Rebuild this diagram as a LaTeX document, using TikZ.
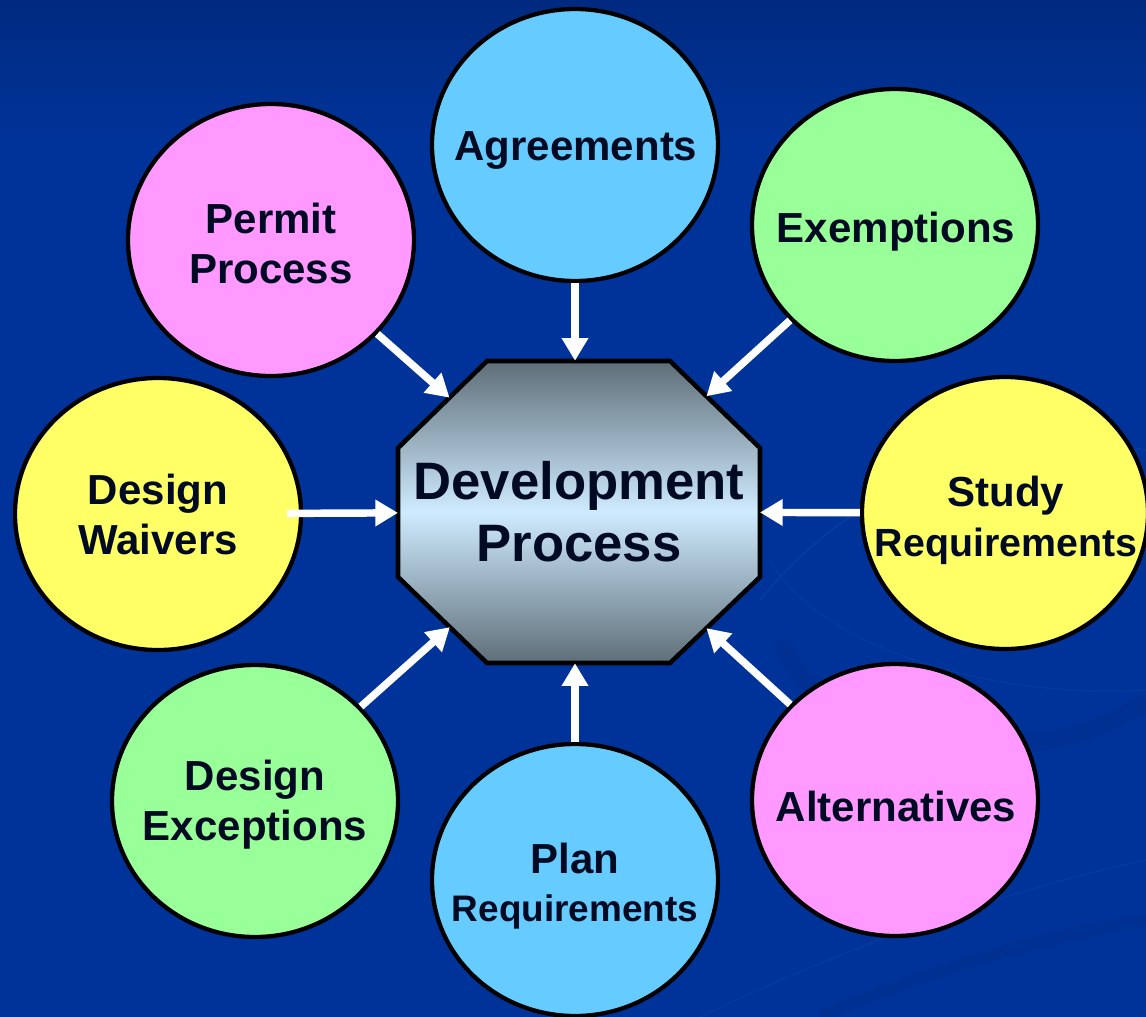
\documentclass[tikz,border=0pt]{standalone}
\usepackage{fontspec}
\setmainfont{Liberation Sans}
\usetikzlibrary{shapes.geometric,arrows.meta,intersections}
\definecolor{bgblue}{HTML}{003399}
\definecolor{bgtop}{HTML}{002A80}
\definecolor{swlight}{HTML}{0A3FA3}
\definecolor{swdark}{HTML}{002E8C}
\definecolor{cblue}{HTML}{66CCFF}
\definecolor{cgreen}{HTML}{99FF99}
\definecolor{cpink}{HTML}{FF99FF}
\definecolor{cyellow}{HTML}{FFFF66}
\definecolor{octedge}{HTML}{5E6E78}
\definecolor{octmid}{HTML}{CFEBFF}
\definecolor{txt}{HTML}{000A22}
\tikzset{
  bubble/.style={ellipse, draw=black, line width=3.2pt, inner sep=0pt,
    minimum width=214.5pt, minimum height=204pt},
  btext/.style={align=center, text=txt, inner sep=0pt,
    font=\bfseries\fontsize{31.5}{37.5}\selectfont},
  hubtext/.style={rectangle, inner sep=0pt, minimum width=271.5pt,
    minimum height=226.5pt, align=center, text=txt,
    font=\bfseries\fontsize{39.5}{46.5}\selectfont},
  arr/.style={draw=white, line width=5.6pt,
    -{Triangle[length=17pt,width=19pt]}}
}
\begin{document}
\begin{tikzpicture}[x=0.75pt,y=-0.75pt]
\useasboundingbox (0,0) rectangle (1146,1017);
% background
\fill[bgblue] (0,0) rectangle (1146,1017);
\shade[top color=bgtop, bottom color=bgblue] (0,0) rectangle (1146,140);
% faint swooshes
\draw[swlight, line width=1.5pt, opacity=0.6]
  (760,600) .. controls (900,430) and (1080,440) .. (1146,450);
\draw[swdark, line width=14pt, opacity=0.5]
  (780,640) .. controls (840,780) and (1080,760) .. (1146,700);
\draw[swlight, line width=1.2pt, opacity=0.5]
  (700,1017) .. controls (880,930) and (1050,880) .. (1146,860);
\draw[swdark, line width=10pt, opacity=0.5]
  (820,1017) .. controls (950,960) and (1080,930) .. (1146,920);
\draw[swlight, line width=1pt, opacity=0.5]
  (770,560) .. controls (820,650) and (1000,700) .. (1146,690);

% hub octagon
\path[name path global=oct, top color=octedge, bottom color=octedge, middle color=octmid]
  (487,361) -- (670,361) -- (760,448) -- (760,577) -- (670,663)
  -- (487,663) -- (398,577) -- (398,448) -- cycle;
\draw[black, line width=3.4pt, line join=miter]
  (487,361) -- (670,361) -- (760,448) -- (760,577) -- (670,663)
  -- (487,663) -- (398,577) -- (398,448) -- cycle;
\node[hubtext] (dev) at (579,512) {Development\\Process};

% bubbles
\node[bubble, fill=cblue]   (agr) at (575,145) {};
\node[btext] (agrt) at (576,151) {Agreements};
\node[bubble, fill=cgreen]  (exm) at (895,225) {};
\node[btext] (exmt) at (896,232) {Exemptions};
\node[bubble, fill=cpink]   (per) at (271,240) {};
\node[btext] (pert) at (271,243) {Permit\\Process};
\node[bubble, fill=cyellow] (wai) at (158,514) {};
\node[btext] (wait) at (wai) {Design\\Waivers};
\node[bubble, fill=cyellow] (stu) at (1005,513) {};
\node[btext] (stut) at (1006,520) {Study\\{\fontsize{29.5}{37.5}\selectfont Requirements}};
\node[bubble, fill=cgreen]  (exc) at (255,801) {};
\node[btext] (exct) at (255,805) {Design\\Exceptions};
\node[bubble, fill=cblue]   (pla) at (575,880) {};
\node[btext, font=\bfseries\fontsize{31.5}{36}\selectfont] (plat) at (575,886)
  {Plan\\{\fontsize{27.7}{36}\selectfont Requirements}};
\node[bubble, fill=cpink]   (alt) at (895,800) {};
\node[btext] (altt) at (896,806) {Alternatives};

% arrow end points on the octagon border
\path[name path=rper] (per.center) -- (dev.center);
\path[name intersections={of=rper and oct, by={eper}}];
\path[name path=rexm] (exm.center) -- (dev.center);
\path[name intersections={of=rexm and oct, by={eexm}}];
\path[name path=rexc] (exc.center) -- (dev.center);
\path[name intersections={of=rexc and oct, by={eexc}}];
\path[name path=ralt] (alt.center) -- (dev.center);
\path[name intersections={of=ralt and oct, by={ealt}}];
\path[name path=rwai] (wai.center) -- (dev.center);
\path[name intersections={of=rwai and oct, by={ewai}}];
\path[name path=rstu] (stu.center) -- (dev.center);
\path[name intersections={of=rstu and oct, by={estu}}];

% arrows
\draw[arr] (agr.south) -- (agr.south |- dev.north);
\draw[arr] (pla.north) -- (pla.north |- dev.south);
\draw[arr, shorten <=-12pt] (wai) -- (ewai);
\draw[arr] (stu) -- (estu);
\draw[arr] (per) -- (eper);
\draw[arr] (exm) -- (eexm);
\draw[arr] (exc) -- (eexc);
\draw[arr] (alt) -- (ealt);
\end{tikzpicture}
\end{document}
